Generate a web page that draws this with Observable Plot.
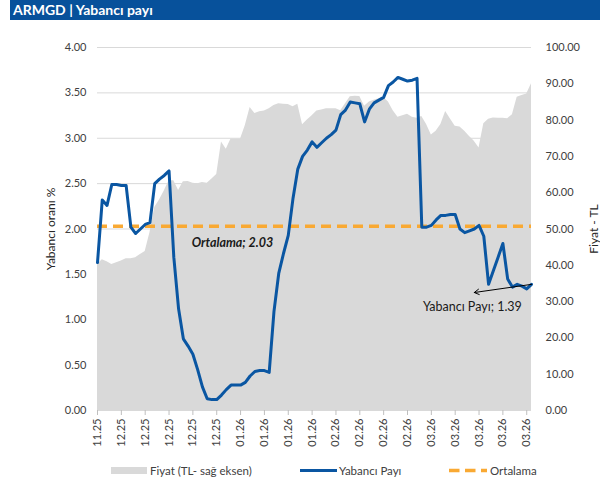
<!DOCTYPE html>
<html><head><meta charset="utf-8">
<script src="https://cdn.jsdelivr.net/npm/d3@7"></script>
<script src="https://cdn.jsdelivr.net/npm/@observablehq/plot@0.6"></script>
<style>
body{margin:0;background:#fff;font-family:Lato,sans-serif;}
#wrap{position:relative;width:600px;height:481px;overflow:hidden;background:#fff}
#title{position:absolute;left:10px;top:0;width:590px;height:20px;background:#07519b;color:#fff;font:bold 14px Lato,sans-serif;line-height:20px;padding-left:3px;box-sizing:border-box}
#chart{position:absolute;left:0;top:20px}
#legend{position:absolute;left:0;top:460px}
</style></head><body>
<div id="wrap"><div id="title">ARMGD | Yabancı payı</div><div id="chart"></div><div id="legend"></div></div>
<script>
// Yabancı payı (%), one value per trading day
const yabanciPayi = [1.63, 2.32, 2.26, 2.49, 2.49, 2.48, 2.48, 2.02, 1.95, 2.00,
  2.05, 2.07, 2.50, 2.55, 2.59, 2.64, 1.69, 1.12, 0.79, 0.71,
  0.62, 0.45, 0.26, 0.13, 0.12, 0.12, 0.17, 0.23, 0.28, 0.28,
  0.28, 0.31, 0.38, 0.43, 0.44, 0.44, 0.42, 1.09, 1.51, 1.73,
  1.93, 2.34, 2.66, 2.80, 2.87, 2.96, 2.90, 2.95, 3.00, 3.04,
  3.09, 3.26, 3.31, 3.40, 3.39, 3.38, 3.18, 3.32, 3.39, 3.42,
  3.45, 3.58, 3.62, 3.67, 3.65, 3.63, 3.64, 3.66, 2.02, 2.02,
  2.04, 2.10, 2.15, 2.15, 2.16, 2.16, 2.00, 1.96, 1.98, 2.00,
  2.04, 1.92, 1.39, 1.54, 1.69, 1.84, 1.45, 1.36, 1.39, 1.37,
  1.34, 1.39];
// Fiyat (TL, sağ eksen)
const fiyat = [40.2, 41.5, 41.0, 40.2, 40.7, 41.2, 41.8, 41.8, 42.1, 43.0,
  43.8, 49.0, 55.9, 58.0, 60.5, 63.3, 63.3, 60.6, 63.0, 63.1,
  62.6, 62.5, 62.8, 62.6, 63.8, 65.0, 74.0, 72.0, 74.8, 74.8,
  74.8, 78.5, 83.5, 81.8, 82.3, 82.5, 83.1, 84.0, 84.5, 84.4,
  84.3, 83.7, 84.4, 78.7, 80.0, 81.2, 82.5, 82.8, 83.1, 83.1,
  83.1, 82.6, 84.5, 86.4, 86.6, 86.5, 83.8, 85.0, 85.5, 85.9,
  86.2, 85.0, 82.6, 80.8, 81.2, 81.6, 80.8, 80.5, 81.0, 78.8,
  75.9, 76.9, 78.8, 82.4, 80.3, 78.3, 78.1, 76.9, 75.5, 74.2,
  72.3, 79.0, 80.2, 80.6, 80.5, 80.5, 80.4, 81.5, 86.3, 86.8,
  87.2, 90.0];
const ortalama = 2.03;
const tickLabels = ["11.25","12.25","12.25","12.25","12.25","12.25","01.26","01.26","01.26","01.26",
  "02.26","02.26","02.26","02.26","03.26","03.26","03.26","03.26","03.26"];
const tickStep = 5;
const leftTicks = [0, 0.5, 1, 1.5, 2, 2.5, 3, 3.5, 4];
const rightTicks = [0, 10, 20, 30, 40, 50, 60, 70, 80, 90, 100];
const leftMax = 4, rightMax = 100;

const ratio = leftMax / rightMax;
const rows = yabanciPayi.map((p, i) => ({i, pay: p, fiyat: fiyat[i]}));
const tickIdx = tickLabels.map((_, k) => k * tickStep);
const last = rows[rows.length - 1];

const blue = "#0a56a2", orange = "#f9a933", gray = "#d9d9d9";

const chart = Plot.plot({
  width: 600, height: 440,
  marginLeft: 97, marginRight: 69, marginTop: 27, marginBottom: 50,
  x: {domain: [0, rows.length - 1]},
  y: {domain: [0, leftMax]},
  style: {fontFamily: "Lato, sans-serif", fontSize: "11px", color: "#404040", background: "transparent"},
  marks: [
    Plot.ruleY(leftTicks, {stroke: gray, strokeWidth: 1}),
    Plot.areaY(rows, {x: "i", y: d => d.fiyat * ratio, fill: gray}),
    Plot.ruleY([ortalama], {stroke: orange, strokeWidth: 3.5, strokeDasharray: "10,6"}),
    Plot.lineY(rows, {x: "i", y: "pay", stroke: blue, strokeWidth: 3, strokeLinejoin: "round"}),
    Plot.axisY({ticks: leftTicks, tickSize: 0, tickPadding: 11, tickFormat: d3.format(".2f"), label: null}),
    Plot.axisY({anchor: "right", ticks: rightTicks.map(v => v * ratio), tickSize: 0, tickPadding: 14,
      tickFormat: d => (d / ratio).toFixed(2), label: null}),
    Plot.axisX({ticks: tickIdx, tickSize: 5, tickPadding: 3, tickRotate: -90,
      tickFormat: d => tickLabels[d / tickStep], stroke: "#bfbfbf", fill: "#404040", label: null}),
    Plot.text(["Yabancı oranı %"], {text: d => d, frameAnchor: "left", textAnchor: "middle", dx: -46, rotate: -90, fontSize: 12, fill: "#262626"}),
    Plot.text(["Fiyat - TL"], {text: d => d, frameAnchor: "right", textAnchor: "middle", dx: 63, rotate: -90, fontSize: 12, fill: "#262626"}),
    Plot.text([{x: 28.3, y: ortalama}], {x: "x", y: "y", text: d => `Ortalama; ${ortalama.toFixed(2)}`, dy: 17,
      fontWeight: "bold", fontStyle: "italic", fontSize: 12.5, fill: "#1a1a1a"}),
    Plot.arrow([{x1: last.i, y1: last.pay, x2: 79, y2: 1.30}], {x1: "x1", y1: "y1", x2: "x2", y2: "y2",
      stroke: "#000", strokeWidth: 1, headLength: 8}),
    Plot.text([{x: 78.6, y: 1.30}], {x: "x", y: "y", text: d => `Yabancı Payı; ${last.pay.toFixed(2)}`, dy: 14,
      fontSize: 12.5, fill: "#1a1a1a"})
  ]
});
document.getElementById("chart").appendChild(chart);

// Legend
const lg = d3.select("#legend").append("svg").attr("width", 600).attr("height", 21)
  .style("font-family", "Lato, sans-serif").style("font-size", "11.5px");
const cy = 10.5;
lg.append("rect").attr("x", 111).attr("y", cy - 3.5).attr("width", 36).attr("height", 7).attr("fill", gray);
lg.append("text").attr("x", 150).attr("y", cy).attr("dy", "0.35em").attr("fill", "#404040").text("Fiyat (TL- sağ eksen)");
lg.append("line").attr("x1", 300).attr("x2", 337).attr("y1", cy).attr("y2", cy).attr("stroke", blue).attr("stroke-width", 3);
lg.append("text").attr("x", 339).attr("y", cy).attr("dy", "0.35em").attr("fill", "#404040").text("Yabancı Payı");
lg.append("line").attr("x1", 449).attr("x2", 487).attr("y1", cy).attr("y2", cy).attr("stroke", orange)
  .attr("stroke-width", 3.5).attr("stroke-dasharray", "10.5,5.5");
lg.append("text").attr("x", 490).attr("y", cy).attr("dy", "0.35em").attr("fill", "#404040").text("Ortalama");
</script>
</body></html>
